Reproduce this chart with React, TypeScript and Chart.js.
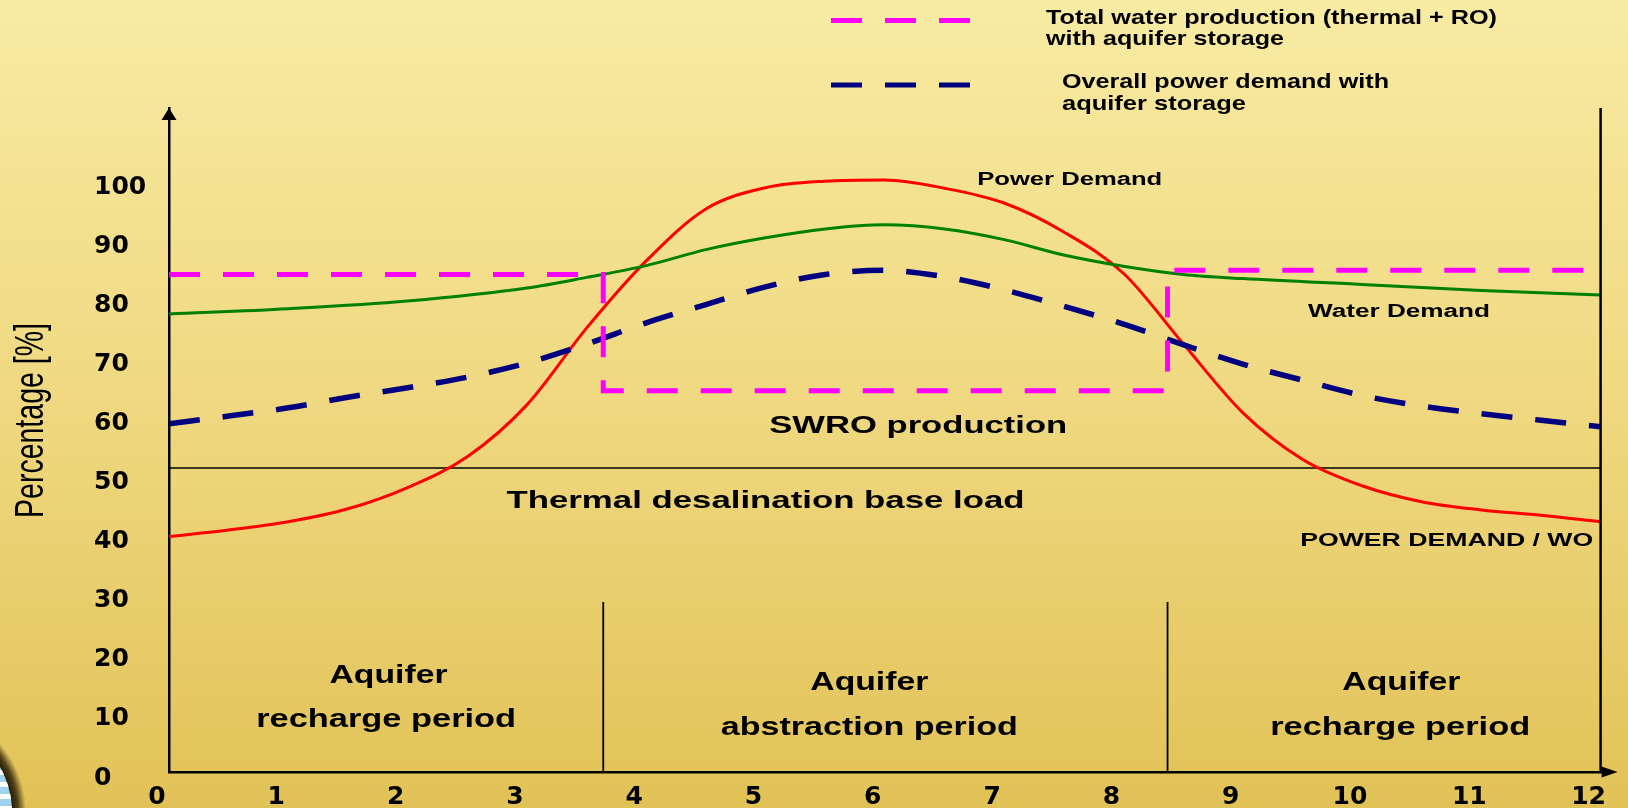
import React, { useEffect, useRef } from 'react';
import { Chart, registerables } from 'chart.js';

Chart.register(...registerables);

// ---------------- data ----------------
const xTickLabels = ['0', '1', '2', '3', '4', '5', '6', '7', '8', '9', '10', '11', '12'];
const yTickValues = [0, 10, 20, 30, 40, 50, 60, 70, 80, 90, 100];
const yAxisTitle = 'Percentage [%]';

const curveX = [0, 0.5, 1, 1.5, 2, 2.5, 3, 3.5, 4, 4.5, 5, 5.5, 6, 6.5, 7, 7.5, 8, 8.5, 9, 9.5, 10, 10.5, 11, 11.5, 12];
const powerDemand = [39.9, 41.0, 42.4, 44.6, 48.2, 53.4, 62.2, 75.2, 86.6, 95.4, 99.0, 100.1, 100.3, 98.9, 96.4, 91.5, 84.5, 72.6, 60.9, 53.0, 48.5, 45.8, 44.4, 43.5, 42.4];
const overallPowerDemand = [59.0, 60.3, 61.7, 63.5, 65.1, 66.9, 69.3, 72.5, 76.1, 79.2, 82.2, 84.3, 85.0, 83.9, 81.7, 78.9, 75.9, 72.4, 69.1, 66.4, 63.8, 62.0, 60.7, 59.6, 58.5];

const waterX = [0, 1, 2, 3, 3.5, 4, 4.5, 5, 5.5, 6, 6.5, 7, 7.5, 8, 8.5, 9, 10, 11, 12];
const waterDemand = [77.6, 78.5, 79.8, 82.0, 83.8, 85.8, 88.5, 90.5, 92.0, 92.7, 92.0, 90.2, 87.6, 85.7, 84.3, 83.6, 82.6, 81.6, 80.8];

const totalWaterX = [0, 3.64, 3.64, 8.37, 8.37, 11.86];
const totalWaterProduction = [84.3, 84.3, 64.6, 64.6, 85.0, 85.0];

const periodBounds = [3.64, 8.37];
const periodLineTop = 28.8;
const thermalBaseLoad = 51.5;

const totalWaterLabel = 'Total water production (thermal + RO) with aquifer storage';
const overallPowerLabel = 'Overall power demand with aquifer storage';
const legendLines = [
  ['Total water production (thermal + RO)', 'with aquifer storage'],
  ['Overall power demand with', 'aquifer storage'],
];

const curveNotes = [
  { text: 'Power Demand', x: 7.55, y: 100.3 },
  { text: 'Water Demand', x: 10.31, y: 78.0 },
  { text: 'POWER DEMAND / WO', x: 10.71, y: 39.2 },
];
const loadNotes = [
  { text: 'SWRO production', x: 6.28, y: 58.6 },
  { text: 'Thermal desalination base load', x: 5.0, y: 45.8 },
];
const periodNotes = [
  { text: 'Aquifer', x: 1.84, y: 16.3 },
  { text: 'recharge period', x: 1.82, y: 8.8 },
  { text: 'Aquifer', x: 5.87, y: 15.1 },
  { text: 'abstraction period', x: 5.87, y: 7.5 },
  { text: 'Aquifer', x: 10.33, y: 15.1 },
  { text: 'recharge period', x: 10.32, y: 7.5 },
];

// ---------------- styles ----------------
const FONT = '"Liberation Sans", Arial, sans-serif';
const TICK_FONT = '"DejaVu Sans", sans-serif';
const noteWidths: Record<string, number> = {
  'Power Demand': 185,
  'Water Demand': 182,
  'POWER DEMAND / WO': 293,
  'SWRO production': 298,
  'Thermal desalination base load': 518,
  'Aquifer': 118,
  'recharge period': 260,
  'abstraction period': 297,
};
const legendWidths = [[451, 238], [327, 184]];

const pts = (xs: number[], ys: number[]) => xs.map((x, i) => ({ x, y: ys[i] }));

function drawStretched(ctx: CanvasRenderingContext2D, text: string, x: number, y: number, font: string, width: number, align: CanvasTextAlign) {
  ctx.save();
  ctx.font = font;
  const w = ctx.measureText(text).width || 1;
  ctx.translate(x, y);
  ctx.scale(width / w, 1);
  ctx.textAlign = align;
  ctx.textBaseline = 'middle';
  ctx.fillStyle = '#000';
  ctx.fillText(text, 0, 0);
  ctx.restore();
}

const backgroundPlugin = {
  id: 'bg',
  beforeDraw(chart: any) {
    const { ctx, width, height } = chart;
    ctx.save();
    const g = ctx.createLinearGradient(0, 0, 0, height);
    g.addColorStop(0, '#F8EBA3');
    g.addColorStop(0.5, '#EFD880');
    g.addColorStop(1, '#E1C257');
    ctx.fillStyle = g;
    ctx.fillRect(0, 0, width, height);
    // partial round logo at bottom-left corner
    const cx = -78, cy = 812;
    const rg = ctx.createRadialGradient(cx, cy, 88, cx, cy, 104);
    rg.addColorStop(0, 'rgba(25,18,0,1)');
    rg.addColorStop(0.5, 'rgba(40,30,5,0.8)');
    rg.addColorStop(1, 'rgba(40,30,5,0)');
    ctx.beginPath();
    ctx.arc(cx, cy, 104, 0, Math.PI * 2);
    ctx.fillStyle = rg;
    ctx.fill();
    ctx.beginPath();
    ctx.arc(cx, cy, 90, 0, Math.PI * 2);
    ctx.fillStyle = '#9FD2EC';
    ctx.fill();
    ctx.clip();
    ctx.fillStyle = '#FFFFFF';
    for (let y = 770; y < 820; y += 12) ctx.fillRect(-200, y, 300, 5);
    ctx.restore();
  },
};

const decorPlugin = {
  id: 'decor',
  afterDraw(chart: any) {
    const { ctx, chartArea } = chart;
    const xs = chart.scales.x;
    const ys = chart.scales.y;
    const { left, right, top, bottom } = chartArea;
    ctx.save();
    // right frame line
    ctx.strokeStyle = '#000';
    ctx.lineWidth = 2.5;
    ctx.beginPath();
    ctx.moveTo(right, top);
    ctx.lineTo(right, bottom);
    ctx.stroke();
    // x axis extension + arrow
    ctx.beginPath();
    ctx.moveTo(right, bottom);
    ctx.lineTo(right + 8, bottom);
    ctx.stroke();
    ctx.fillStyle = '#000';
    ctx.beginPath();
    ctx.moveTo(right + 17, bottom);
    ctx.lineTo(right + 1, bottom - 5.5);
    ctx.lineTo(right + 1, bottom + 5.5);
    ctx.closePath();
    ctx.fill();
    // y axis arrow
    ctx.beginPath();
    ctx.moveTo(left, top);
    ctx.lineTo(left - 7.5, top + 12);
    ctx.lineTo(left + 7.5, top + 12);
    ctx.closePath();
    ctx.fill();
    ctx.restore();

    // notes
    curveNotes.forEach((n) =>
      drawStretched(ctx, n.text, xs.getPixelForValue(n.x), ys.getPixelForValue(n.y), `bold 18px ${FONT}`, noteWidths[n.text], 'center'));
    loadNotes.forEach((n) =>
      drawStretched(ctx, n.text, xs.getPixelForValue(n.x), ys.getPixelForValue(n.y), `bold 24px ${FONT}`, noteWidths[n.text], 'center'));
    periodNotes.forEach((n) =>
      drawStretched(ctx, n.text, xs.getPixelForValue(n.x), ys.getPixelForValue(n.y), `bold 25px ${FONT}`, noteWidths[n.text], 'center'));

    // legend (custom, top right)
    const legendRows = [
      { ds: 0, sampleY: 20.5, textX: 1046, lineY: [18.5, 39.5] },
      { ds: 1, sampleY: 85, textX: 1062, lineY: [82.5, 104] },
    ];
    legendRows.forEach((row, i) => {
      const ds = chart.data.datasets[row.ds];
      ctx.save();
      ctx.strokeStyle = ds.borderColor;
      ctx.lineWidth = 5;
      ctx.setLineDash(ds.borderDash);
      ctx.beginPath();
      ctx.moveTo(831, row.sampleY);
      ctx.lineTo(971, row.sampleY);
      ctx.stroke();
      ctx.restore();
      legendLines[i].forEach((t, j) =>
        drawStretched(ctx, t, row.textX, row.lineY[j], `bold 21px ${FONT}`, legendWidths[i][j], 'left'));
    });

    // y axis title (stretched like the source)
    ctx.save();
    ctx.font = `28px ${FONT}`;
    const tw = ctx.measureText(yAxisTitle).width || 1;
    ctx.translate(32, 420.5);
    ctx.rotate(-Math.PI / 2);
    ctx.scale(195 / tw, 1.45);
    ctx.textAlign = 'center';
    ctx.textBaseline = 'middle';
    ctx.fillStyle = '#000';
    ctx.fillText(yAxisTitle, 0, 0);
    ctx.restore();
  },
};

export default function App() {
  const ref = useRef<HTMLCanvasElement>(null);

  useEffect(() => {
    const canvas = ref.current;
    if (!canvas) return;
    const lineBase = { pointRadius: 0, fill: false, borderCapStyle: 'butt' as const };
    const chart = new Chart(canvas, {
      type: 'line',
      data: {
        datasets: [
          {
            ...lineBase,
            label: totalWaterLabel,
            data: pts(totalWaterX, totalWaterProduction),
            borderColor: '#FF00FF',
            borderWidth: 5,
            borderDash: [31, 23],
            borderJoinStyle: 'miter',
            tension: 0,
          },
          {
            ...lineBase,
            label: overallPowerLabel,
            data: pts(curveX, overallPowerDemand),
            borderColor: '#000080',
            borderWidth: 5.5,
            borderDash: [31, 23],
            cubicInterpolationMode: 'monotone',
          },
          {
            ...lineBase,
            label: 'Water Demand',
            data: pts(waterX, waterDemand),
            borderColor: '#008000',
            borderWidth: 3,
            cubicInterpolationMode: 'monotone',
          },
          {
            ...lineBase,
            label: 'Power Demand',
            data: pts(curveX, powerDemand),
            borderColor: '#FF0000',
            borderWidth: 3,
            cubicInterpolationMode: 'monotone',
          },
          {
            ...lineBase,
            label: 'Thermal desalination base load',
            data: [{ x: 0, y: thermalBaseLoad }, { x: 12, y: thermalBaseLoad }],
            borderColor: '#000000',
            borderWidth: 1.5,
            tension: 0,
          },
          ...periodBounds.map((b) => ({
            ...lineBase,
            label: 'Aquifer period boundary',
            data: [{ x: b, y: 0 }, { x: b, y: periodLineTop }],
            borderColor: '#000000',
            borderWidth: 1.8,
            tension: 0,
          })),
        ],
      },
      options: {
        animation: false,
        responsive: false,
        devicePixelRatio: 1,
        events: [],
        layout: { padding: { left: 94, right: 21, top: 108, bottom: 0 } },
        plugins: {
          legend: { display: false },
          tooltip: { enabled: false },
          title: { display: false },
        },
        scales: {
          x: {
            type: 'linear',
            min: 0,
            max: 12,
            grid: { display: false, drawTicks: false },
            border: { display: true, color: '#000', width: 2.5 },
            afterBuildTicks: (s: any) => {
              s.ticks = xTickLabels.map((_, i) => ({ value: i }));
            },
            afterFit: (s: any) => {
              s.height = 36;
            },
            ticks: {
              autoSkip: false,
              maxRotation: 0,
              minRotation: 0,
              labelOffset: -12,
              padding: 10,
              color: '#000',
              font: { family: TICK_FONT, weight: 'bold', size: 25 },
              callback: (_v: any, i: number) => xTickLabels[i],
            },
          },
          y: {
            type: 'linear',
            min: 0,
            max: 112.5,
            grid: { display: false, drawTicks: false },
            border: { display: true, color: '#000', width: 2.5 },
            afterBuildTicks: (s: any) => {
              s.ticks = yTickValues.map((v) => ({ value: v }));
            },
            afterFit: (s: any) => {
              s.width = 75;
            },
            ticks: {
              autoSkip: false,
              crossAlign: 'far',
              labelOffset: 6,
              padding: 0,
              color: '#000',
              font: { family: TICK_FONT, weight: 'bold', size: 25 },
            },
          },
        },
      },
      plugins: [backgroundPlugin, decorPlugin],
    } as any);
    return () => chart.destroy();
  }, []);

  return (
    <div style={{ position: 'fixed', left: 0, top: 0, width: 1628, height: 808 }}>
      <canvas ref={ref} width={1628} height={808} style={{ display: 'block', width: 1628, height: 808 }} />
    </div>
  );
}
